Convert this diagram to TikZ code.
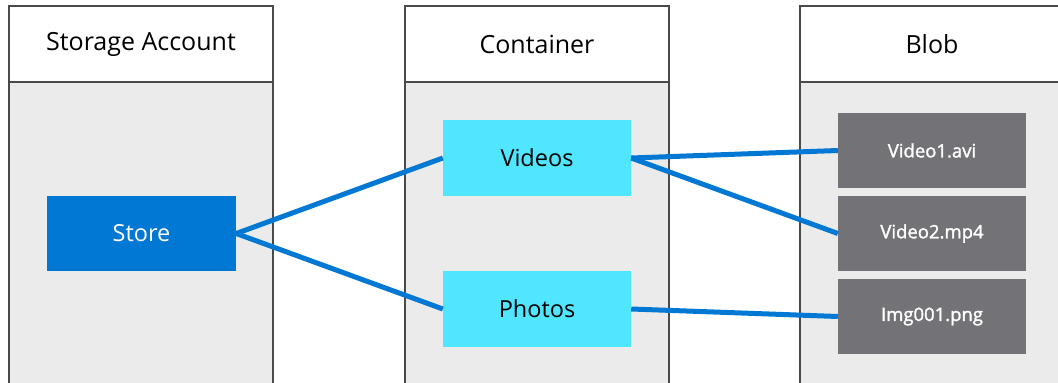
\documentclass[tikz,border=0pt]{standalone}
\usepackage{fontspec}
\setmainfont{Open Sans}
\newfontfamily\semib{Open Sans}[FakeBold=1.6]
\definecolor{bodygray}{HTML}{EBEBEB}
\definecolor{edgegray}{HTML}{4A4A4A}
\definecolor{azure}{HTML}{0078D4}
\definecolor{cyanbox}{HTML}{50E6FF}
\definecolor{blobgray}{HTML}{737276}
\begin{document}
\begin{tikzpicture}[x=1pt,y=-1pt,
  colbody/.style={draw=edgegray,line width=1.4pt,fill=bodygray},
  colhead/.style={draw=edgegray,line width=1.4pt,fill=white},
  headtext/.style={font=\fontsize{25}{28}\selectfont,text=black},
  storebox/.style={fill=azure,text=white,minimum width=189pt,minimum height=75pt,inner sep=0pt,font=\fontsize{23.5}{26}\selectfont},
  contbox/.style={fill=cyanbox,text=black,minimum width=188pt,minimum height=76pt,inner sep=0pt,font=\fontsize{23.5}{26}\selectfont},
  blobbox/.style={fill=blobgray,text=white,minimum width=188pt,minimum height=75pt,inner sep=0pt,font=\semib\fontsize{18.5}{21}\selectfont},
  link/.style={draw=azure,line width=5pt}]
\useasboundingbox (0,0) rectangle (1058,383);
% columns
\draw[colbody] (9,390) -- (9,82) -- (273,82) -- (273,390);
\draw[colhead] (9,6) rectangle (273,82);
\draw[colbody] (405,390) -- (405,82) -- (669,82) -- (669,390);
\draw[colhead] (405,6) rectangle (669,82);
\draw[colbody] (800,390) -- (800,82) -- (1070,82);
\fill[bodygray] (801,83) rectangle (1070,390);
\draw[colhead] (800,82) -- (800,6) -- (1070,6);
\fill[white] (801,7) rectangle (1070,81);
\draw[edgegray,line width=1.4pt] (800,82) -- (1070,82);
\node[headtext] (h1) at (141,44) {Storage Account};
\node[headtext] (h2) at (537,44) {Container};
\node[headtext] (h3) at (932,44) {Blob};
% nodes
\node[storebox] (store) at (141.5,233.5) {Store};
\node[contbox] (videos) at (537,158) {Videos};
\node[contbox] (photos) at (537,309) {Photos};
\node[blobbox] (v1) at (932,150.5) {Video1.avi};
\node[blobbox] (v2) at (932,233.5) {Video2.mp4};
\node[blobbox] (img) at (932,316.5) {Img001.png};
% links
\draw[link] (store.east) -- (videos.west);
\draw[link] (store.east) -- (photos.west);
\draw[link] (videos.east) -- (v1.west);
\draw[link] (videos.east) -- (v2.west);
\draw[link] (photos.east) -- (img.west);
\end{tikzpicture}
\end{document}
